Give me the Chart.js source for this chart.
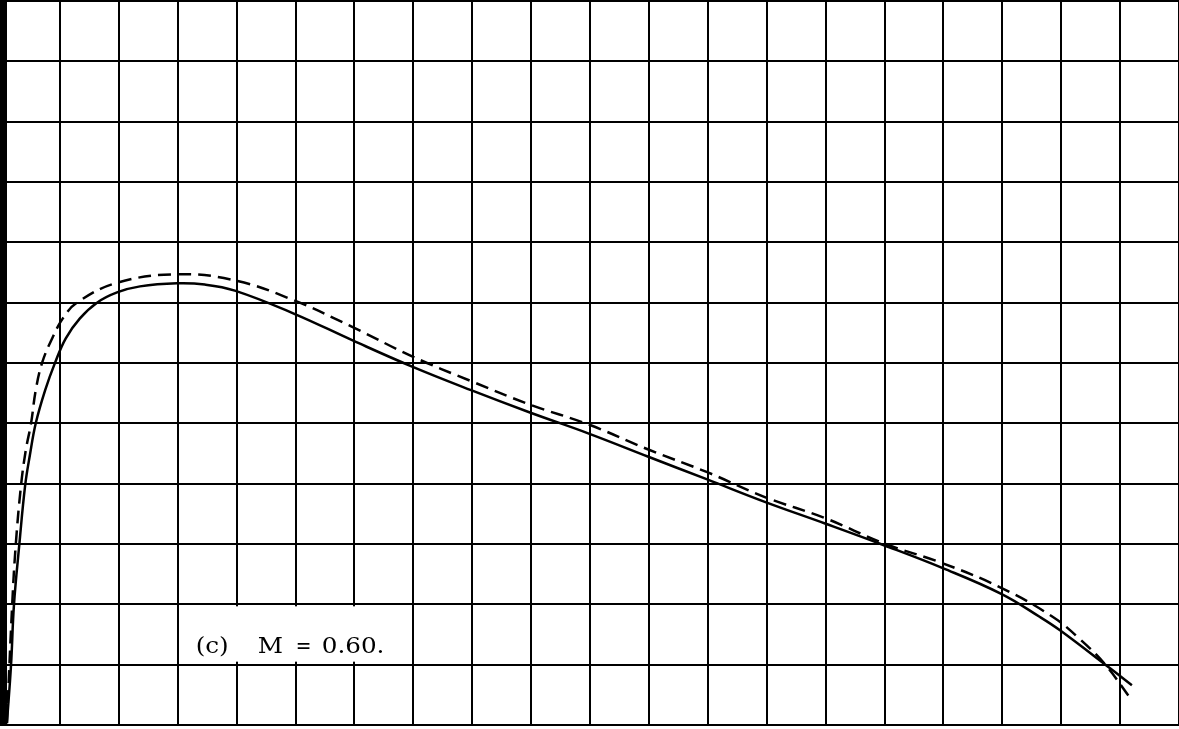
<!DOCTYPE html>
<html lang="en">
<head>
    <meta charset="UTF-8">
    <title>M = 0.60</title>
    <script src="https://cdn.jsdelivr.net/npm/chart.js"></script>
    <style>
        body { margin: 0; background: #fff; }
    </style>
</head>
<body>
    <canvas id="chart" width="1179" height="729"></canvas>
    <script>
        // grid is 20 x 12 cells, no tick labels on the original
        const xRange = [0, 20];
        const yRange = [0, 12];

        // solid curve
        const solidX = [0.10, 0.17, 0.22, 0.31, 0.41, 0.49, 0.59, 0.75, 0.92, 1.10, 1.34, 1.63, 1.97, 2.36, 2.99, 3.46, 3.97, 4.97, 5.98, 6.98, 7.98, 8.98, 9.98, 10.98, 11.99, 12.99, 13.99, 14.99, 15.99, 16.99, 17.64, 17.98, 18.83, 19.20];
        const solidY = [0.03, 0.99, 1.99, 2.98, 3.97, 4.47, 5.00, 5.55, 6.01, 6.41, 6.74, 7.00, 7.17, 7.27, 7.32, 7.30, 7.20, 6.82, 6.37, 5.94, 5.55, 5.18, 4.83, 4.45, 4.07, 3.69, 3.34, 2.98, 2.60, 2.17, 1.79, 1.57, 0.94, 0.66];

        // dashed curve
        const dashX = [0.10, 0.19, 0.25, 0.34, 0.42, 0.51, 0.59, 0.70, 0.87, 1.05, 1.29, 1.97, 2.99, 3.97, 4.97, 5.98, 6.98, 7.98, 8.98, 9.98, 10.98, 11.99, 12.99, 13.99, 14.99, 15.99, 16.99, 17.86, 18.32, 18.74, 19.17];
        const dashY = [0.03, 1.99, 2.98, 3.97, 4.55, 5.00, 5.55, 6.01, 6.41, 6.74, 7.00, 7.33, 7.47, 7.37, 7.04, 6.59, 6.11, 5.70, 5.31, 4.98, 4.57, 4.19, 3.77, 3.43, 3.01, 2.68, 2.27, 1.79, 1.42, 1.01, 0.45];

        const label = '(c)  M = 0.60.';

        const toPoints = (xs, ys) => xs.map((x, i) => ({ x: x, y: ys[i] }));

        // white patch behind the label, then the label itself
        const labelPlugin = {
            id: 'label',
            beforeDatasetsDraw(chart) {
                const { ctx, scales } = chart;
                const left = scales.x.getPixelForValue(3) + 2;
                const right = scales.x.getPixelForValue(7) - 6;
                const top = scales.y.getPixelForValue(2) + 2;
                const bottom = scales.y.getPixelForValue(1) - 3;
                ctx.save();
                ctx.fillStyle = '#fff';
                ctx.fillRect(left, top, right - left, bottom - top);
                ctx.restore();
            },
            afterDatasetsDraw(chart) {
                const { ctx, scales } = chart;
                const parts = label.split(/\s+/);
                const offsets = [0, 62, 100, 126];
                const x0 = scales.x.getPixelForValue(3) + 18;
                const y0 = scales.y.getPixelForValue(1) - 12;
                ctx.save();
                ctx.fillStyle = '#000';
                ctx.font = '22px "DejaVu Serif"';
                ctx.textBaseline = 'alphabetic';
                parts.forEach((p, i) => {
                    ctx.save();
                    ctx.translate(x0 + offsets[i], y0);
                    ctx.scale(i === 2 ? 0.85 : 1.12, 1);
                    ctx.fillText(p, 0, 0);
                    ctx.restore();
                });
                ctx.restore();
            }
        };

        const ctx = document.getElementById('chart').getContext('2d');
        new Chart(ctx, {
            type: 'line',
            data: {
                datasets: [
                    {
                        label: 'solid',
                        data: toPoints(solidX, solidY),
                        borderColor: '#000',
                        borderWidth: 2.5,
                        pointRadius: 0,
                        fill: false,
                        tension: 0.4
                    },
                    {
                        label: 'dashed',
                        data: toPoints(dashX, dashY),
                        borderColor: '#000',
                        borderWidth: 2.5,
                        borderDash: [13, 7],
                        pointRadius: 0,
                        fill: false,
                        tension: 0.4
                    }
                ]
            },
            options: {
                responsive: false,
                animation: false,
                layout: { padding: { left: 1, right: 0, top: 1, bottom: 4 } },
                plugins: {
                    legend: { display: false },
                    tooltip: { enabled: false },
                    title: { display: false }
                },
                scales: {
                    x: {
                        type: 'linear',
                        min: xRange[0],
                        max: xRange[1],
                        ticks: { stepSize: 1, display: false },
                        grid: { color: '#000', lineWidth: 2, drawTicks: false, tickLength: 0 },
                        border: { color: '#000', width: 2 }
                    },
                    y: {
                        min: yRange[0],
                        max: yRange[1],
                        ticks: { stepSize: 1, display: false },
                        grid: { color: '#000', lineWidth: 2, drawTicks: false, tickLength: 0 },
                        border: { color: '#000', width: 11 }
                    }
                }
            },
            plugins: [labelPlugin]
        });
    </script>
</body>
</html>
